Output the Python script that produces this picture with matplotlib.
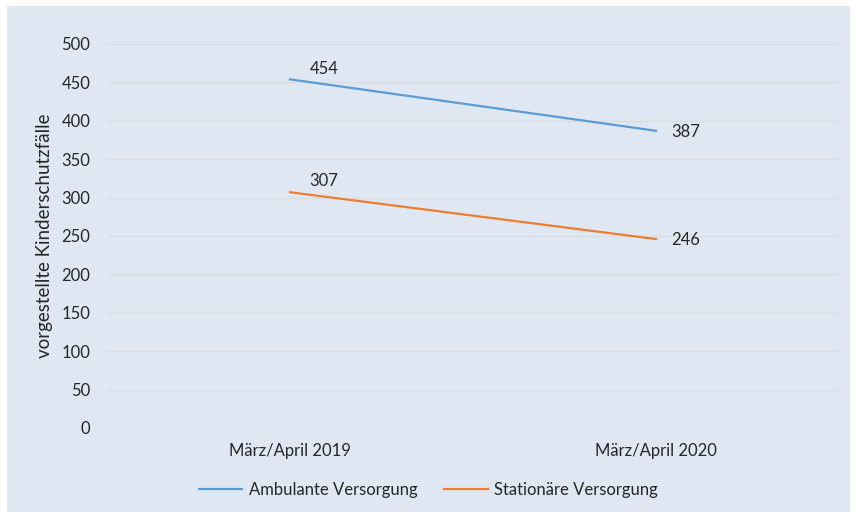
import matplotlib.pyplot as plt
from matplotlib.patches import Rectangle

# Daten
kategorien = ['März/April 2019', 'März/April 2020']
ambulant = [454, 387]
stationaer = [307, 246]
y_ticks = [0, 50, 100, 150, 200, 250, 300, 350, 400, 450, 500]

plt.rcParams['font.family'] = ['Lato', 'DejaVu Sans']

bg = '#dfe8f2'
blau = '#5b9bd5'
orange = '#ed7d31'
text_farbe = '#262626'

fig = plt.figure(figsize=(8.57, 5.2), dpi=100)
fig.patch.set_facecolor('white')
fig.patches.append(Rectangle((7 / 857, 8 / 520), 843 / 857, 506 / 520,
                             transform=fig.transFigure, facecolor=bg,
                             edgecolor='none', zorder=-10))

ax = fig.add_axes([107 / 857, 1 - 428 / 520, 732 / 857, 384 / 520])
ax.set_facecolor(bg)

x = [0.5, 1.5]
ax.plot(x, ambulant, color=blau, lw=1.6, label='Ambulante Versorgung')
ax.plot(x, stationaer, color=orange, lw=1.6, label='Stationäre Versorgung')

# Datenbeschriftungen
fs = 12
ax.annotate(str(ambulant[0]), (x[0], ambulant[0]), xytext=(14, 2),
            textcoords='offset points', fontsize=fs, color=text_farbe,
            va='bottom', ha='left')
ax.annotate(str(stationaer[0]), (x[0], stationaer[0]), xytext=(14, 2),
            textcoords='offset points', fontsize=fs, color=text_farbe,
            va='bottom', ha='left')
ax.annotate(str(ambulant[1]), (x[1], ambulant[1]), xytext=(11, -1),
            textcoords='offset points', fontsize=fs, color=text_farbe,
            va='center', ha='left')
ax.annotate(str(stationaer[1]), (x[1], stationaer[1]), xytext=(11, -1),
            textcoords='offset points', fontsize=fs, color=text_farbe,
            va='center', ha='left')

ax.set_xlim(0, 2)
ax.set_ylim(0, 500)
ax.set_yticks(y_ticks)
ax.set_xticks(x)
ax.set_xticklabels(kategorien)
ax.tick_params(length=0, labelsize=fs, labelcolor=text_farbe)
ax.tick_params(axis='y', pad=12)
ax.tick_params(axis='x', pad=11)
ax.grid(axis='y', color='#d9dcdf', lw=1)
ax.set_axisbelow(True)
for s in ax.spines.values():
    s.set_visible(False)

ax.set_ylabel('vorgestellte Kinderschutzfälle', fontsize=13.5,
              color=text_farbe, labelpad=6)

fig.legend(loc='center', bbox_to_anchor=(0.5, 1 - 490 / 520), ncol=2,
           frameon=False, fontsize=fs, handlelength=2.6, columnspacing=1.6,
           handletextpad=0.4, labelcolor=text_farbe)

fig.savefig('out.png', dpi=100, facecolor=fig.get_facecolor())
